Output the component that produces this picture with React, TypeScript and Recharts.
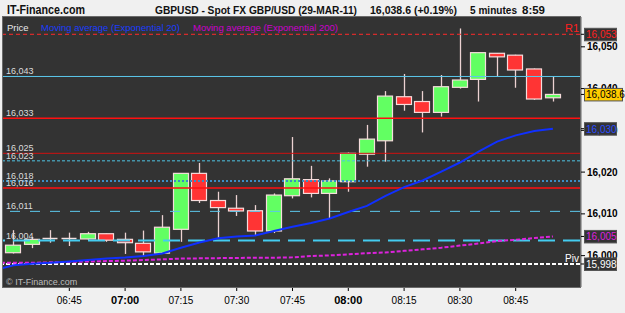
import React from 'react';
import { ComposedChart, Bar, Line, XAxis, YAxis, ReferenceLine, CartesianGrid } from 'recharts';

// ---- data (06:25 is only the left edge of the moving averages) ----
const times = ['06:25','06:30','06:35','06:40','06:45','06:50','06:55','07:00','07:05','07:10','07:15','07:20','07:25','07:30','07:35','07:40','07:45','07:50','07:55','08:00','08:05','08:10','08:15','08:20','08:25','08:30','08:35','08:40','08:45','08:50','08:55'];
const opens = [null,16000.7,16002.7,16004.1,16004.1,16004.0,16005.25,16003.9,16002.95,16000.6,16006.3,16019.7,16013.2,16011.35,16010.75,16005.9,16014.35,16018.2,16014.9,16017.7,16024.3,16027.5,16038.05,16036.9,16034.3,16040.3,16042.2,16048.45,16048.0,16044.7,16037.8];
const highs = [null,16006.1,16004.5,16006.1,16005.5,16005.7,16005.3,16005.5,16006.0,16009.7,16019.7,16022.2,16015.3,16014.5,16012.1,16014.9,16028.4,16021.5,16018.5,16024.7,16031.3,16039.4,16043.5,16039.4,16043.25,16054.4,16048.6,16048.5,16048.1,16044.8,16043.0];
const lows = [null,16000.5,16001.8,16003.1,16002.3,16003.7,16003.3,16000.4,15999.75,16000.4,16003.3,16012.6,16004.15,16009.5,16004.9,16005.4,16013.7,16013.95,16008.9,16015.3,16021.3,16022.5,16034.7,16029.5,16033.3,16040.0,16036.9,16043.0,16040.2,16037.3,16036.9];
const closes = [null,16002.5,16003.9,16004.1,16004.1,16005.25,16003.7,16003.1,16000.9,16006.8,16019.7,16013.2,16011.5,16010.7,16005.9,16014.5,16018.4,16014.9,16017.9,16024.5,16027.9,16038.2,16036.2,16034.3,16040.45,16042.05,16048.6,16047.6,16044.45,16037.5,16038.6];
const ema20 = [15996.5,15997.7,15998.05,15998.3,15998.6,15998.95,15999.3,15999.55,15999.9,16000.5,16001.9,16003.15,16004.15,16004.6,16004.8,16005.9,16006.9,16007.8,16008.9,16010.45,16011.9,16014.3,16016.4,16018.0,16020.1,16022.3,16024.9,16027.3,16028.8,16029.85,16030.4];
const ema200 = [15998.3,15998.3,15998.3,15998.4,15998.5,15998.6,15998.7,15998.8,15998.95,15999.1,15999.3,15999.35,15999.4,15999.45,15999.5,15999.5,15999.6,15999.9,16000.05,16000.3,16000.6,16000.75,16001.15,16001.5,16001.9,16002.4,16002.9,16003.5,16003.8,16004.2,16004.6];
const levelValues = [16053, 16042.9, 16032.9, 16024.5, 16022.7, 16017.9, 16016.2, 16010.6, 16003.6, 15998.0];
const levelTags = ['R1', '', '', '', '', '', '', '', '', 'Piv'];
const yTicks = [16000, 16010, 16020, 16030, 16040, 16050];
const xTicks = [3, 6, 9, 12, 15, 18, 21, 24, 27];

const lastClose = closes[closes.length - 1] as number;
const lastE20 = ema20[ema20.length - 1];
const lastE200 = ema200[ema200.length - 1];
// right-hand value boxes: R1, price, EMA20, EMA200, pivot
const boxValues = [levelValues[0], lastClose, lastE20, lastE200, levelValues[9]];
const boxDecimals = [0, 1, 0, 0, 0];

// ---- styles ----
const levelStyles = [
  { stroke: '#ff2a2a', dash: '4 3', width: 1, left: false },
  { stroke: '#5cc8ec', dash: undefined, width: 1, left: true },
  { stroke: '#ff1010', dash: undefined, width: 1.5, left: true },
  { stroke: '#d01010', dash: undefined, width: 1, left: true },
  { stroke: '#4fc4e4', dash: '3 2', width: 1, left: true },
  { stroke: '#3a8ec4', dash: '2 2', width: 2, left: true },
  { stroke: '#ff1010', dash: undefined, width: 1.5, left: true },
  { stroke: '#5cc8ec', dash: '10 10', width: 1, left: true },
  { stroke: '#44ccf0', dash: '17 8', width: 2, left: true },
  { stroke: '#ffffff', dash: '4 2', width: 2, left: false },
];
const boxStyles = [
  { color: '#ff2020', bg: '#333333', w: 32 },
  { color: '#000000', bg: '#ffcc00', w: 38 },
  { color: '#2a4cff', bg: '#333333', w: 32 },
  { color: '#dd22dd', bg: '#333333', w: 32 },
  { color: '#ffffff', bg: '#333333', w: 32 },
];

const data = times.map((t, k) => ({
  i: k - 1,
  t,
  o: opens[k],
  h: highs[k],
  l: lows[k],
  c: closes[k],
  ema20: ema20[k],
  ema200: ema200[k],
}));

const fmt = (v: number, d = 0) =>
  v.toLocaleString('en-US', { minimumFractionDigits: d, maximumFractionDigits: d });

const FONT = "'Liberation Sans', Arial, sans-serif";
const PRICE_AXIS_W = 44;

const CandleShape = (props: any) => {
  const { x, y, width, height, payload } = props;
  if (!payload || payload.o == null) return null;
  const { o, h, l, c } = payload;
  const top = Math.min(y, y + height);
  const bot = Math.max(y, y + height);
  const span = h - l;
  const toPx = (v: number) => (span === 0 ? top : top + ((h - v) / span) * (bot - top));
  const cx = Math.round(x + width / 2) + 0.5;
  const yo = toPx(o);
  const yc = toPx(c);
  const bTop = Math.min(yo, yc);
  const bBot = Math.max(yo, yc);
  const up = c >= o;
  const bh = bBot - bTop;
  const left = Math.round(x) + 0.5;
  const w = Math.round(width) - 1;
  return (
    <g>
      <line x1={cx} x2={cx} y1={top} y2={bot} stroke="#ecd2d2" strokeWidth={1.3} />
      {bh < 1.2 ? (
        <line x1={left} x2={left + w} y1={bTop} y2={bTop} stroke="#f4e0e0" strokeWidth={1.5} />
      ) : (
        <rect x={left} y={bTop} width={w} height={bh} fill={up ? '#62ff62' : '#ff3434'} stroke="#f6dcdc" strokeWidth={1.2} />
      )}
    </g>
  );
};

const LevelLabel = (props: any) => {
  const { viewBox, text, left, tag, tagColor } = props;
  if (!viewBox) return null;
  const y = viewBox.y;
  const xl = viewBox.x;
  const xr = viewBox.x + viewBox.width;
  return (
    <g>
      {left && (
        <text x={xl + 3} y={y - 2} fill="#dcdcdc" fontSize={9} fontFamily={FONT}>{text}</text>
      )}
      {tag && (
        <text x={xr - 1} y={y - 2} textAnchor="end" fill={tagColor} fontSize={tag === 'R1' ? 11 : 10} fontFamily={FONT}>{tag}</text>
      )}
    </g>
  );
};

// value boxes drawn as ticks of a thin second right axis (rendered after the price axis)
const BoxTick = (props: any) => {
  const { x, y, payload } = props;
  const k = boxValues.indexOf(payload.value);
  if (k < 0) return null;
  const s = boxStyles[k];
  const axisX = x > 600 ? x - PRICE_AXIS_W : x; // the plot's right edge
  return (
    <g>
      <line x1={axisX} x2={axisX + 4} y1={y} y2={y} stroke="#000" />
      <rect x={axisX + 4.5} y={y - 6} width={s.w} height={12.5} fill={s.bg} stroke="#555" />
      <text x={axisX + 6} y={y + 4} fill={s.color} fontSize={10} fontFamily={FONT}>
        {fmt(payload.value, boxDecimals[k])}
      </text>
    </g>
  );
};

const TimeTick = (props: any) => {
  const { x, y, payload } = props;
  const label = times[payload.value + 1];
  const bold = label.endsWith(':00');
  return (
    <text x={x} y={y + 11} textAnchor="middle" fontSize={bold ? 11 : 10} fontWeight={bold ? 'bold' : 'normal'} fill="#000" fontFamily={FONT}>
      {label}
    </text>
  );
};

export default function App() {
  return (
    <div style={{ position: 'absolute', left: 0, top: 0, width: 625, height: 313, background: '#f0f0f0', fontFamily: FONT }}>
      <ComposedChart width={625} height={313} data={data} margin={{ top: 17, right: 0, left: 3, bottom: 0 }}>
        <CartesianGrid horizontal={false} vertical={false} fill="#333333" stroke="none" />
        <XAxis
          dataKey="i"
          type="number"
          domain={[-0.565, 30.457]}
          allowDataOverflow
          ticks={xTicks}
          tick={<TimeTick />}
          tickSize={4}
          height={26}
          axisLine={false}
          tickLine={{ stroke: '#000' }}
          interval={0}
        />
        <YAxis
          yAxisId="price"
          orientation="right"
          width={PRICE_AXIS_W}
          domain={[15992.49, 16057.14]}
          allowDataOverflow
          ticks={yTicks}
          tickFormatter={(v: number) => fmt(v)}
          tick={{ fill: '#000', fontSize: 10, fontWeight: 'bold', fontFamily: FONT }}
          tickSize={4}
          tickLine={{ stroke: '#000' }}
          axisLine={{ stroke: '#666' }}
          interval={0}
        />
        <YAxis
          yAxisId="boxes"
          orientation="right"
          width={1}
          domain={[15992.49, 16057.14]}
          allowDataOverflow
          ticks={boxValues}
          tick={<BoxTick />}
          tickSize={0}
          tickMargin={0}
          tickLine={false}
          axisLine={false}
          interval={0}
        />
        {levelValues.map((v, k) => {
          const s = levelStyles[k];
          return (
            <ReferenceLine
              key={k}
              yAxisId="price"
              y={v}
              stroke={s.stroke}
              strokeDasharray={s.dash}
              strokeWidth={s.width}
              label={
                <LevelLabel
                  text={fmt(v)}
                  left={s.left}
                  tag={levelTags[k]}
                  tagColor={k === 0 ? '#ff2020' : '#ffffff'}
                />
              }
            />
          );
        })}
        <Bar yAxisId="price" dataKey={(d: any) => (d.o == null ? null : [d.l, d.h])} barSize={16} shape={<CandleShape />} isAnimationActive={false} />
        <Line yAxisId="price" dataKey="ema200" stroke="#dd22dd" strokeWidth={2} strokeDasharray="4 2" dot={false} isAnimationActive={false} type="linear" />
        <Line yAxisId="price" dataKey="ema20" stroke="#1030ff" strokeWidth={2} dot={false} isAnimationActive={false} type="linear" />
      </ComposedChart>
      <svg width={625} height={313} style={{ position: 'absolute', left: 0, top: 0, pointerEvents: 'none' }}>
        <rect x={2.5} y={16.5} width={578} height={271} fill="none" stroke="#6a6a6a" />
        <text x={7} y={14} fontSize={12} fontWeight="bold" fill="#111" fontFamily={FONT} textLength={78} lengthAdjust="spacingAndGlyphs">IT-Finance.com</text>
        <text x={155} y={14} fontSize={11.5} fontWeight="bold" fill="#111" fontFamily={FONT} textLength={202} lengthAdjust="spacingAndGlyphs">GBPUSD - Spot FX GBP/USD (29-MAR-11)</text>
        <text x={370} y={14} fontSize={11.5} fontWeight="bold" fill="#111" fontFamily={FONT} textLength={87} lengthAdjust="spacingAndGlyphs">16,038.6 (+0.19%)</text>
        <text x={470} y={14} fontSize={11.5} fontWeight="bold" fill="#111" fontFamily={FONT} textLength={47} lengthAdjust="spacingAndGlyphs">5 minutes</text>
        <text x={522} y={14} fontSize={11.5} fontWeight="bold" fill="#111" fontFamily={FONT} textLength={23} lengthAdjust="spacingAndGlyphs">8:59</text>
        <text x={7} y={31} fontSize={9.5} fill="#e8e8e8" fontFamily={FONT}>Price</text>
        <text x={41} y={31} fontSize={9.5} fill="#1a3cff" fontFamily={FONT} textLength={139} lengthAdjust="spacingAndGlyphs">Moving average (Exponential 20)</text>
        <text x={193} y={31} fontSize={9.5} fill="#cc00cc" fontFamily={FONT} textLength={145} lengthAdjust="spacingAndGlyphs">Moving average (Exponential 200)</text>
        <text x={6} y={285} fontSize={9} fill="#bdbdbd" fontFamily={FONT}>© IT-Finance.com</text>
      </svg>
    </div>
  );
}
